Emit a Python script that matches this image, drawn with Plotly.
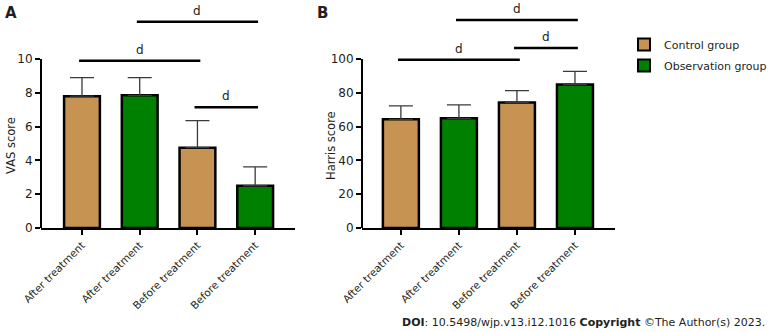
import plotly.graph_objects as go

# ---------------- data ----------------
categories = ["After treatment", "After treatment", "Before treatment", "Before treatment"]
groups = ["Control group", "Observation group", "Control group", "Observation group"]

vas_mean = [7.8, 7.85, 4.75, 2.5]
vas_sd = [1.1, 1.05, 1.6, 1.12]

harris_mean = [64.3, 64.9, 74.3, 84.9]
harris_sd = [7.9, 7.9, 7.0, 7.8]

# significance brackets: (from index, to index, height, label)
vas_brackets_from = [0, 1, 2]
vas_brackets_to = [2, 3, 3]
vas_brackets_y = [9.9, 12.2, 7.15]
harris_brackets_from = [0, 1, 2]
harris_brackets_to = [2, 3, 3]
harris_brackets_y = [99.6, 123.0, 106.5]
bracket_label = "d"

vas_ticks = [0, 2, 4, 6, 8, 10]
harris_ticks = [0, 20, 40, 60, 80, 100]

# ---------------- style ----------------
W, H = 769, 332
FONT = "DejaVu Sans"
TXT = "#231f20"
colors = {"Control group": "#C69352", "Observation group": "#008000"}

def px_x(p):
    return p / W

def px_y(p):
    return (H - p) / H

fig = go.Figure()

panels = [
    dict(xa="x", ya="y", mean=vas_mean, sd=vas_sd, show=True),
    dict(xa="x2", ya="y2", mean=harris_mean, sd=harris_sd, show=False),
]

for pn in panels:
    for g in ["Control group", "Observation group"]:
        idx = [i for i, gg in enumerate(groups) if gg == g]
        fig.add_trace(go.Bar(
            x=idx,
            y=[pn["mean"][i] for i in idx],
            width=0.62,
            name=g,
            legendgroup=g,
            showlegend=pn["show"],
            marker=dict(color=colors[g], line=dict(color="black", width=2.5)),
            error_y=dict(type="data", symmetric=False,
                         array=[pn["sd"][i] for i in idx],
                         arrayminus=[0] * len(idx),
                         color="#3a3a3a", thickness=1.3, width=12),
            xaxis=pn["xa"], yaxis=pn["ya"],
        ))

ydom = [px_y(228), px_y(4.9)]
common_x = dict(
    tickmode="array", tickvals=[0, 1, 2, 3], ticktext=categories,
    tickangle=-45, showline=True, linewidth=2, linecolor="black",
    ticks="outside", ticklen=5, tickwidth=2, tickcolor="black",
    showgrid=False, zeroline=False, automargin=False,
    tickfont=dict(family=FONT, size=10.5, color=TXT),
)
common_y = dict(
    showline=False, ticks="outside", ticklen=5, tickwidth=2, tickcolor="black",
    showgrid=False, zeroline=False, tickmode="array", automargin=False,
    tickfont=dict(family=FONT, size=12, color=TXT),
    domain=ydom,
)

fig.update_layout(
    xaxis=dict(domain=[px_x(41), px_x(295)], range=[-0.71, 3.69], anchor="y", **common_x),
    xaxis2=dict(domain=[px_x(362), px_x(615)], range=[-0.67, 3.69], anchor="y2", **common_x),
    yaxis=dict(range=[0, 13.2], tickvals=vas_ticks, anchor="x", **common_y),
    yaxis2=dict(range=[0, 132], tickvals=harris_ticks, anchor="x2", **common_y),
    barmode="overlay",
    width=W, height=H,
    margin=dict(l=0, r=0, t=0, b=0, autoexpand=False),
    plot_bgcolor="white", paper_bgcolor="white",
    showlegend=True,
    legend=dict(x=px_x(624), y=px_y(30), xanchor="left", yanchor="top",
                font=dict(family=FONT, size=11, color=TXT),
                bgcolor="rgba(0,0,0,0)", itemsizing="constant",
                tracegroupgap=2),
)

shapes = []
annotations = []
# y-axis lines spanning only the tick range
for xa, ya, top in [("x", "y", vas_ticks[-1]), ("x2", "y2", harris_ticks[-1])]:
    shapes.append(dict(type="line", xref=f"{xa} domain", yref=ya,
                       x0=0, x1=0, y0=0, y1=top,
                       line=dict(color="black", width=2)))

for xa, ya, fr, to, yy in [("x", "y", vas_brackets_from, vas_brackets_to, vas_brackets_y),
                           ("x2", "y2", harris_brackets_from, harris_brackets_to, harris_brackets_y)]:
    for a, b, h in zip(fr, to, yy):
        shapes.append(dict(type="line", xref=xa, yref=ya,
                           x0=a - 0.05, x1=b + 0.05, y0=h, y1=h,
                           line=dict(color="black", width=2.5)))
        annotations.append(dict(xref=xa, yref=ya, x=(a + b) / 2, y=h,
                                text=bracket_label, showarrow=False,
                                yanchor="bottom", yshift=2,
                                font=dict(family=FONT, size=12, color=TXT)))

annotations += [
    dict(xref="paper", yref="paper", x=px_x(11), y=px_y(146), textangle=-90,
         xanchor="center", yanchor="middle",
         text="VAS score", showarrow=False, font=dict(family=FONT, size=11.5, color=TXT)),
    dict(xref="paper", yref="paper", x=px_x(331), y=px_y(146), textangle=-90,
         xanchor="center", yanchor="middle",
         text="Harris score", showarrow=False, font=dict(family=FONT, size=11.5, color=TXT)),
    dict(xref="paper", yref="paper", x=px_x(3), y=px_y(2), xanchor="left", yanchor="top",
         text="<b>A</b>", showarrow=False, font=dict(family=FONT, size=15, color=TXT)),
    dict(xref="paper", yref="paper", x=px_x(315), y=px_y(2), xanchor="left", yanchor="top",
         text="<b>B</b>", showarrow=False, font=dict(family=FONT, size=15, color=TXT)),
    dict(xref="paper", yref="paper", x=px_x(767), y=px_y(331), xanchor="right", yanchor="bottom",
         text="<b>DOI</b>: 10.5498/wjp.v13.i12.1016 <b>Copyright</b> ©The Author(s) 2023.",
         showarrow=False, font=dict(family=FONT, size=11, color=TXT)),
]

fig.update_layout(shapes=shapes, annotations=annotations)
fig.write_html("out.html",
               config={"displayModeBar": False},
               post_script="document.body.style.margin='0px';document.body.style.overflow='hidden';")
